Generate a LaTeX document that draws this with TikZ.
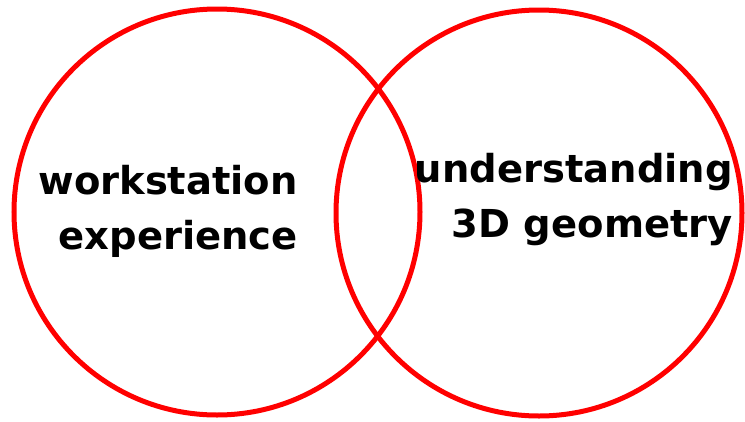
\documentclass[tikz,border=0pt]{standalone}
\usepackage{fontspec}
\setmainfont{DejaVu Sans}
\begin{document}
\begin{tikzpicture}[x=1pt,y=-1pt,
  ring/.style={draw=red,line width=5pt,circle,minimum size=406pt,inner sep=0pt},
  label/.style={align=right,inner sep=0pt,font=\bfseries\fontsize{38.5}{55}\selectfont,text=black}]
\useasboundingbox (0,0) rectangle (745,421);
\node[ring] (L) at (217,212) {};
\node[ring] (R) at (539,213) {};
\node[label,anchor=east] (lt) at (298,211) {workstation\\experience};
\node[label,anchor=east] (rt) at (733,200) {understanding\\3D geometry};
\end{tikzpicture}
\end{document}
